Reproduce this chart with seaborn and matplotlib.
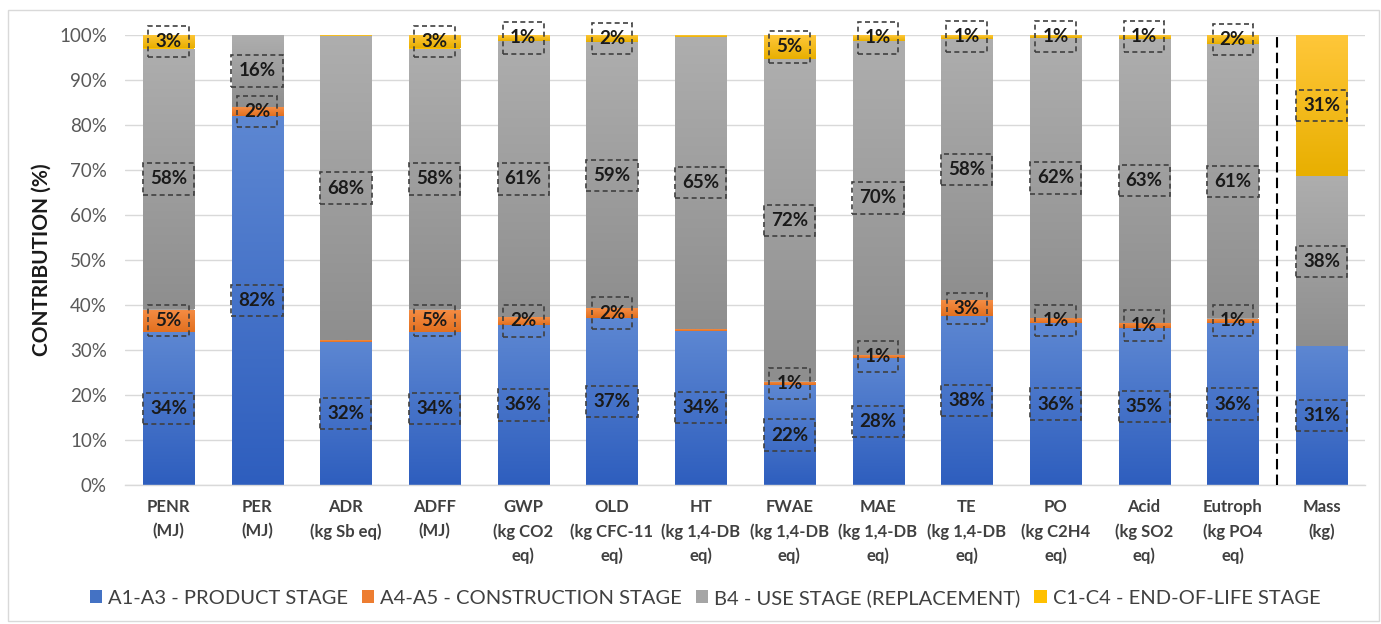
import numpy as np
import pandas as pd
import matplotlib
matplotlib.use("Agg")
import matplotlib.pyplot as plt
import seaborn as sns
from matplotlib.colors import LinearSegmentedColormap
from matplotlib.patches import Rectangle, Patch

# ---------------- data ----------------
categories = ["PENR\n(MJ)", "PER\n(MJ)", "ADR\n(kg Sb eq)", "ADFF\n(MJ)",
              "GWP\n(kg CO2\neq)", "OLD\n(kg CFC-11\neq)", "HT\n(kg 1,4-DB\neq)",
              "FWAE\n(kg 1,4-DB\neq)", "MAE\n(kg 1,4-DB\neq)", "TE\n(kg 1,4-DB\neq)",
              "PO\n(kg C2H4\neq)", "Acid\n(kg SO2\neq)", "Eutroph\n(kg PO4\neq)", "Mass\n(kg)"]
product_stage = [34.0, 82.0, 31.8, 34.0, 35.6, 37.1, 34.3, 22.2, 28.3, 37.6, 36.0, 34.8, 36.0, 30.8]
construction_stage = [5.0, 2.0, 0.4, 5.0, 1.7, 2.2, 0.4, 0.8, 0.6, 3.4, 1.2, 1.2, 1.0, 0.0]
use_stage = [58.0, 16.0, 67.6, 58.0, 61.4, 59.1, 64.9, 71.7, 69.8, 58.2, 62.1, 63.2, 60.9, 37.9]
eol_stage = [3.0, 0.0, 0.2, 3.0, 1.3, 1.6, 0.4, 5.3, 1.3, 0.8, 0.7, 0.8, 2.1, 31.3]
series_names = ["A1-A3 - PRODUCT STAGE", "A4-A5 - CONSTRUCTION STAGE",
                "B4 - USE STAGE (REPLACEMENT)", "C1-C4 - END-OF-LIFE STAGE"]
y_ticks = [0, 10, 20, 30, 40, 50, 60, 70, 80, 90, 100]
y_tick_labels = [f"{t}%" for t in y_ticks]

# (base, top, bottom) colours for the vertical gradients
palette = [("#4472C4", "#5D87D2", "#2E5EBE"),
           ("#ED7D31", "#F58D45", "#E2701F"),
           ("#A5A5A5", "#AEAEAE", "#8E8E8E"),
           ("#FFC000", "#FFC73A", "#E8AF00")]

sns.set_theme(style="white")
plt.rcParams["font.family"] = ["Lato", "DejaVu Sans"]

W, H = 1381, 624
fig = plt.figure(figsize=(W / 100, H / 100), dpi=100)
fig.patch.set_facecolor("white")
ax = fig.add_axes([125 / W, 1 - 485 / H, 1240 / W, 450 / H])

series = [product_stage, construction_stage, use_stage, eol_stage]
bottoms = np.zeros(len(categories))
for name, vals, (base, top, bot) in zip(series_names, series, palette):
    df = pd.DataFrame({"category": categories, "value": vals})
    n_before = len(ax.patches)
    sns.barplot(data=df, x="category", y="value", order=categories,
                bottom=bottoms.copy(), width=0.575, color=base, saturation=1,
                errorbar=None, ax=ax, linewidth=0, label=name)
    new_patches = ax.patches[n_before:]
    cmap = LinearSegmentedColormap.from_list(name, [bot, top])
    grad = np.linspace(0, 1, 256).reshape(-1, 1)
    for p in new_patches:
        x0, y0 = p.get_x(), p.get_y()
        w, h = p.get_width(), p.get_height()
        if h <= 0:
            continue
        im = ax.imshow(grad, cmap=cmap, extent=[x0, x0 + w, y0, y0 + h],
                       origin="lower", aspect="auto", interpolation="bilinear",
                       zorder=1.5)
        im.set_clip_path(p)
    for i, v in enumerate(vals):
        if v >= 0.5:
            ax.text(i, bottoms[i] + v / 2, f"{v:.0f}%", ha="center", va="center",
                    fontsize=13.5, fontweight="bold", color="#1a1a1a", zorder=4,
                    bbox=dict(boxstyle="square,pad=0.38", fc="none", ec="#404040",
                              ls=(0, (3, 2)), lw=1.2))
    bottoms = bottoms + np.array(vals)

# separator before the mass bar
ax.plot([12.5, 12.5], [0, 100], color="black", lw=1.5, ls=(0, (5, 2.5)), zorder=3)

ax.set_xlim(-0.49, 13.49)
ax.set_ylim(0, 100)
ax.set_yticks(y_ticks)
ax.set_yticklabels(y_tick_labels)
ax.set_axisbelow(True)
ax.yaxis.grid(True, color="#D9D9D9", lw=1)
ax.xaxis.grid(False)
for s in ["top", "right", "left"]:
    ax.spines[s].set_visible(False)
ax.spines["bottom"].set_color("#D9D9D9")
ax.spines["bottom"].set_linewidth(1)
ax.tick_params(axis="y", length=0, pad=13, labelsize=13.5, labelcolor="#595959")
ax.tick_params(axis="x", length=0, pad=10, labelsize=12, labelcolor="#404040")
for t in ax.get_xticklabels():
    t.set_fontweight("bold")
    t.set_linespacing(1.6)
    t.set_va("top")
ax.set_xlabel("")
ax.set_ylabel("CONTRIBUTION (%)", fontsize=15, fontweight="bold", color="#1a1a1a")
ax.yaxis.set_label_coords(-0.059, 0.5)
if ax.get_legend() is not None:
    ax.get_legend().remove()

handles = [Patch(facecolor=c[0], edgecolor="none") for c in palette]
fig.legend(handles, series_names, loc="center", bbox_to_anchor=(705 / W, 1 - 598 / H),
           ncol=4, frameon=False, fontsize=14.5, handlelength=0.6, handleheight=0.6,
           handletextpad=0.3, columnspacing=0.7, labelcolor="#404040")

fig.patches.append(Rectangle((8 / W, 3 / H), (W - 10) / W, (H - 13) / H,
                             transform=fig.transFigure, fill=False,
                             edgecolor="#D9D9D9", lw=1))

fig.savefig("out.png", dpi=100)
